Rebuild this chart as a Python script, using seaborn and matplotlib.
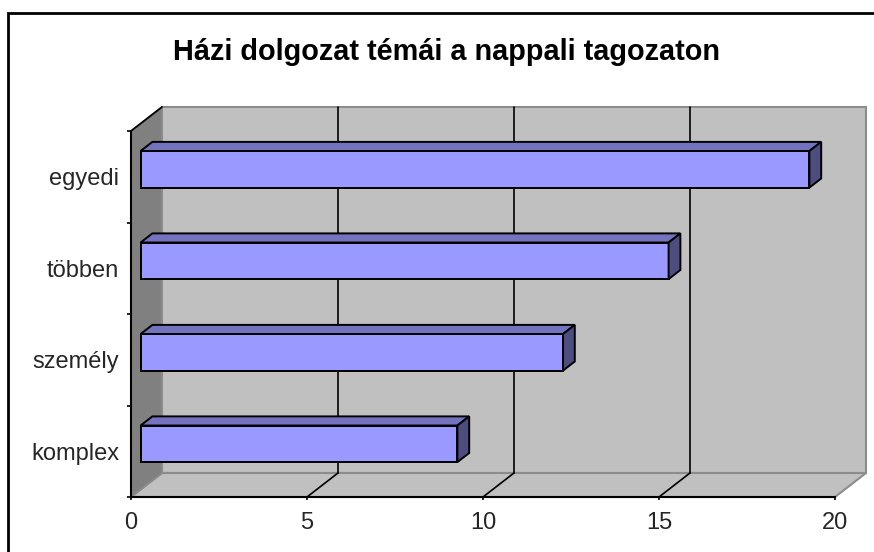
import matplotlib
matplotlib.use("Agg")
import matplotlib.pyplot as plt
import seaborn as sns
import pandas as pd
from matplotlib.patches import Rectangle, Polygon
from matplotlib.transforms import Affine2D
from matplotlib.lines import Line2D

# ---- data ----
categories = ["egyedi", "többen", "személy", "komplex"]
values = [19, 15, 12, 9]
x_ticks = [0, 5, 10, 15, 20]
title = "Házi dolgozat témái a nappali tagozaton"

sns.set_theme(style="white")
plt.rcParams['font.family'] = ['Liberation Sans', 'DejaVu Sans']

W, H = 874, 552
fig = plt.figure(figsize=(W / 100, H / 100), dpi=100)
fig.patch.set_facecolor("white")

# front plane of the 3D box (pixels)
x0p, x1p, y0p, y1p = 131, 835, 131, 497
ax = fig.add_axes([x0p / W, 1 - y1p / H, (x1p - x0p) / W, (y1p - y0p) / H])

df = pd.DataFrame({"cat": categories, "val": values})
sns.barplot(data=df, x="val", y="cat", orient="h", width=0.4, color="#9999FF",
            saturation=1, edgecolor="black", linewidth=1.4, ax=ax, zorder=5)

ax.set_xlim(0, 20)
ax.set_ylim(3.5, -0.5)
ax.patch.set_visible(False)

# depth of the 3D box in data units
px_per_x = (x1p - x0p) / 20.0
px_per_y = (y1p - y0p) / 4.0
DX = 31 / px_per_x
DY = 24 / px_per_y


def shift(d):
    return Affine2D().translate(DX * d, -DY * d) + ax.transData


gray_wall = "#C0C0C0"
gray_side = "#808080"
edge_gray = "#8C8C8C"

# back wall
ax.add_patch(Rectangle((0, -0.5), 20, 4, transform=shift(1), facecolor=gray_wall,
                       edgecolor=edge_gray, linewidth=1.5, zorder=0, clip_on=False))
# floor
ax.add_patch(Polygon([(0, 3.5), (20, 3.5), (20 + DX, 3.5 - DY), (DX, 3.5 - DY)],
                     closed=True, facecolor=gray_wall, edgecolor=edge_gray,
                     linewidth=1.5, zorder=1, clip_on=False))
# side wall
ax.add_patch(Polygon([(0, -0.5), (0, 3.5), (DX, 3.5 - DY), (DX, -0.5 - DY)],
                     closed=True, facecolor=gray_side, edgecolor=edge_gray,
                     linewidth=1.2, zorder=1, clip_on=False))
ax.add_line(Line2D([0, DX], [-0.5, -0.5 - DY], color="black", lw=1.3, zorder=2,
                   clip_on=False))

# grid lines on back wall and floor
for xv in x_ticks[1:-1]:
    ax.add_line(Line2D([xv, xv], [-0.5, 3.5], transform=shift(1), color="black",
                       lw=1.2, zorder=2, clip_on=False))
    ax.add_line(Line2D([xv, xv + DX], [3.5, 3.5 - DY], color="black", lw=1.2,
                       zorder=2, clip_on=False))

# 3D bars: shift the seaborn front faces and add top / side faces
d_front, d_depth = 0.31, 0.38
front_col, top_col, side_col = "#9999FF", "#7373BF", "#4D4D80"
for p in list(ax.patches):
    if isinstance(p, Rectangle) and p.get_zorder() == 5 and p.get_width() > 0:
        bx, by, bw, bh = p.get_x(), p.get_y(), p.get_width(), p.get_height()
        p.set_transform(shift(d_front))
        p.set_clip_on(False)
        ddx, ddy = DX * d_depth, DY * d_depth
        top = Polygon([(bx, by), (bx + bw, by), (bx + bw + ddx, by - ddy), (bx + ddx, by - ddy)],
                      closed=True, transform=shift(d_front), facecolor=top_col,
                      edgecolor="black", linewidth=1.4, zorder=6, clip_on=False)
        side = Polygon([(bx + bw, by), (bx + bw, by + bh), (bx + bw + ddx, by + bh - ddy),
                        (bx + bw + ddx, by - ddy)],
                       closed=True, transform=shift(d_front), facecolor=side_col,
                       edgecolor="black", linewidth=1.4, zorder=6, clip_on=False)
        ax.add_patch(top)
        ax.add_patch(side)

# axes, ticks, labels
for s in ["top", "right"]:
    ax.spines[s].set_visible(False)
for s in ["left", "bottom"]:
    ax.spines[s].set_color("black")
    ax.spines[s].set_linewidth(1.5)
    ax.spines[s].set_zorder(7)

ax.set_xticks(x_ticks)
ax.set_xticklabels([str(t) for t in x_ticks])
ax.tick_params(axis="x", direction="out", length=2.5, width=1.2, color="black",
               labelsize=17, pad=8, bottom=True)
ax.set_yticks([0, 1, 2, 3])
ax.set_yticklabels(categories)
ax.tick_params(axis="y", which="major", length=0, labelsize=17, pad=8.5)
ax.set_yticks([-0.5, 0.5, 1.5, 2.5, 3.5], minor=True)
ax.tick_params(axis="y", which="minor", direction="out", length=3, width=1.2,
               color="black", left=True)
ax.set_xlabel("")
ax.set_ylabel("")

fig.text(446.5 / W, 1 - 60 / H, title, ha="center", va="baseline",
         fontsize=20.8, fontweight="bold", color="black")

# outer chart frame (right and bottom sides lie outside the picture)
fig.patches.append(Rectangle((8 / W, -0.2), 2.0, 1.2 - 13 / H, transform=fig.transFigure,
                             facecolor="none", edgecolor="black", linewidth=2, zorder=10))

fig.savefig("out.png", dpi=100)
